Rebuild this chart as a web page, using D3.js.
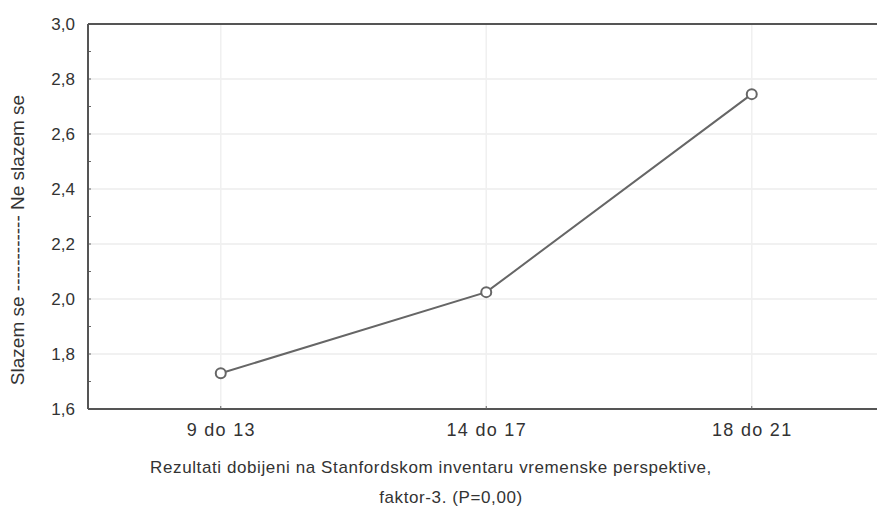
<!DOCTYPE html>
<html>
<head>
<meta charset="utf-8">
<script src="https://cdn.jsdelivr.net/npm/d3@7"></script>
<style>
  body { margin: 0; background: #fff; }
  text { font-family: "Liberation Sans", Arial, sans-serif; fill: #333; }
</style>
</head>
<body>
<div id="chart"></div>
<script>
var categories = ["9 do 13", "14 do 17", "18 do 21"];
var values = [1.73, 2.025, 2.745];
var yTicks = [1.6, 1.8, 2.0, 2.2, 2.4, 2.6, 2.8, 3.0];
var yMinor = [1.7, 1.9, 2.1, 2.3, 2.5, 2.7, 2.9];
var yLabel = "Slazem se ------------ Ne slazem se";
var caption = ["Rezultati dobijeni na Stanfordskom inventaru vremenske perspektive,", "faktor-3. (P=0,00)"];

var W = 877, H = 513;
var margin = { top: 24, right: 0, bottom: 104, left: 88 };
var width = 796.5, height = H - margin.top - margin.bottom;

var svg = d3.select("#chart").append("svg")
    .attr("width", W).attr("height", H);
var g = svg.append("g")
    .attr("transform", "translate(" + margin.left + "," + margin.top + ")");

var x = d3.scalePoint().domain(categories).range([0, width]).padding(0.5);
var y = d3.scaleLinear().domain([1.6, 3.0]).range([height, 0]);

// gridlines
g.selectAll(".hgrid").data(yTicks.slice(1, -1)).enter().append("line")
    .attr("x1", 0).attr("x2", W)
    .attr("y1", function (d) { return y(d) }).attr("y2", function (d) { return y(d) })
    .attr("stroke", "#ededed").attr("stroke-width", 1.5);
g.selectAll(".vgrid").data(categories).enter().append("line")
    .attr("x1", function (d) { return x(d) }).attr("x2", function (d) { return x(d) })
    .attr("y1", 0).attr("y2", height)
    .attr("stroke", "#f0f0f0").attr("stroke-width", 1.5);

// y axis
var yAxis = g.append("g").call(d3.axisLeft(y).tickValues(yTicks).tickSize(0).tickPadding(13)
    .tickFormat(function (d) { return d.toFixed(1).replace(".", ",") }));
yAxis.select(".domain").remove();
yAxis.selectAll("text").style("font-size", "17px").attr("fill", "#333");

// minor ticks on left axis (inward)
g.selectAll(".minor").data(yTicks.concat(yMinor)).enter().append("line")
    .attr("x1", 0).attr("x2", 3)
    .attr("y1", function (d) { return y(d) }).attr("y2", function (d) { return y(d) })
    .attr("stroke", "#666");

// x axis labels
var xAxis = g.append("g").attr("transform", "translate(0," + height + ")")
    .call(d3.axisBottom(x).tickSize(0).tickPadding(14));
xAxis.select(".domain").remove();
xAxis.selectAll("text").style("font-size", "18px").style("letter-spacing", "1.3px").attr("fill", "#333");

// frame
g.append("line").attr("x1", 0).attr("x2", 0).attr("y1", 0).attr("y2", height)
    .attr("stroke", "#555").attr("stroke-width", 2);
g.append("line").attr("x1", 0).attr("x2", W).attr("y1", height).attr("y2", height)
    .attr("stroke", "#555").attr("stroke-width", 2);
g.append("line").attr("x1", 0).attr("x2", W).attr("y1", 0).attr("y2", 0)
    .attr("stroke", "#555").attr("stroke-width", 2);

// small ticks at category positions on the bottom axis
g.selectAll(".xt").data(categories).enter().append("line")
    .attr("x1", function (d) { return x(d) }).attr("x2", function (d) { return x(d) })
    .attr("y1", height - 3).attr("y2", height)
    .attr("stroke", "#666");

// series line
var line = d3.line()
    .x(function (d, i) { return x(categories[i]) })
    .y(function (d) { return y(d) });
g.append("path").datum(values)
    .attr("d", line)
    .attr("fill", "none").attr("stroke", "#666").attr("stroke-width", 2);
g.selectAll(".pt").data(values).enter().append("circle")
    .attr("cx", function (d, i) { return x(categories[i]) })
    .attr("cy", function (d) { return y(d) })
    .attr("r", 5)
    .attr("fill", "#fff").attr("stroke", "#666").attr("stroke-width", 2);

// y label
svg.append("text")
    .attr("transform", "translate(24,240) rotate(-90)")
    .attr("text-anchor", "middle")
    .style("font-size", "19px")
    .text(yLabel);

// caption (second line sits a bit to the right)
svg.selectAll(".cap").data(caption).enter().append("text")
    .attr("x", function (d, i) { return i === 0 ? 431 : 451 })
    .attr("y", function (d, i) { return 473 + i * 30 })
    .attr("text-anchor", "middle")
    .style("font-size", "17px")
    .style("letter-spacing", "0.6px")
    .text(function (d) { return d });
</script>
</body>
</html>
